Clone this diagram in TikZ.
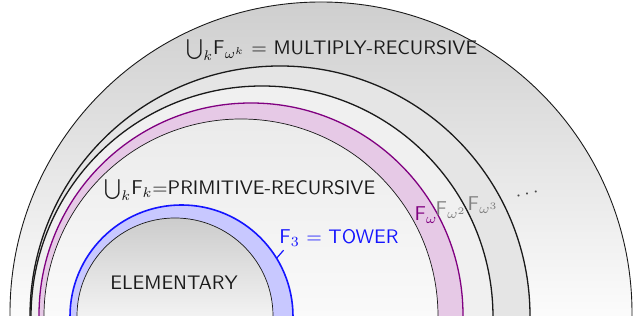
\documentclass[tikz,border=0pt]{standalone}
\usepackage{amsmath}
\usepackage{xcolor}
\usepackage{tikz}
\usetikzlibrary{calc}
\definecolor{ink}{HTML}{1A1A1A}
\definecolor{plum}{HTML}{800080}
\definecolor{plumfill}{HTML}{E6C9E6}
\definecolor{towerblue}{HTML}{1414FF}
\definecolor{towerfill}{HTML}{C8C8FF}
\newcommand{\Fs}{\mathsf{F}}

\begin{document}
\begin{tikzpicture}[
  x=0.5pt, y=0.5pt,
  font=\sffamily\fontsize{9.8}{11}\selectfont,
  every node/.style={inner sep=0pt},
  hair/.style={draw=ink, line width=0.35pt},
  ring/.style={draw=ink, line width=0.65pt},
  lbl/.style={text=ink},
  sub/.style={text=gray},
]
\useasboundingbox (0,0) rectangle (634,325);
\coordinate (cmr) at (321,12);
\coordinate (cw3) at (280,9);
\coordinate (cw2) at (262,8);
\coordinate (cw) at (251,10);
\coordinate (cpr) at (241,9);
\coordinate (ctw) at (181.5,8.5);
\coordinate (cel) at (175,9);
\begin{scope}
  \clip (0,9) rectangle (634,325);
  % multiply-recursive
  \shadedraw[hair, line width=0.45pt, top color=gray!38, bottom color=white, middle color=gray!3] (cmr) circle (311);
  % omega^3, omega^2, omega
  \filldraw[ring, fill=gray!20] (cw3) circle (250);
  \filldraw[ring, fill=gray!12] (cw2) circle (231);
  \filldraw[draw=plum, line width=0.65pt, fill=plumfill] (cw) circle (212);
  % primitive-recursive
  \shadedraw[hair, top color=gray!16, bottom color=white, middle color=gray!4] (cpr) circle (197);
  % tower
  \filldraw[draw=towerblue, line width=0.8pt, fill=towerfill] (ctw) circle (111.5);
  % elementary
  \shadedraw[hair, top color=gray!40, bottom color=white, middle color=gray!10] (cel) circle (98);
\end{scope}
\node[lbl] (mr) at (332,275) {$\bigcup_k\!\Fs_{\omega^k}$ $=$ MULTIPLY-RECURSIVE};
\node[lbl] (pr) at (240,135) {$\bigcup_k\!\Fs_k$=PRIMITIVE-RECURSIVE};
\node[text=towerblue] (tw) at (339,87) {$\Fs_3$ $=$ TOWER};
\node[lbl] (el) at (174,42) {ELEMENTARY};
\node[text=plum] (fw) at (426,110) {$\Fs_\omega$};
\node[sub] (fw2) at (451,115) {$\Fs_{\omega^2}$};
\node[sub] (fw3) at (483,120) {$\Fs_{\omega^3}$};
\node[text=ink!80, rotate=14] (dots) at (529,131) {$\cdots$};
\coordinate (twpin) at ($(ctw)+(31.5:111.5)$);
\draw[towerblue, line width=0.6pt] (twpin) -- ++(7,8);
\end{tikzpicture}
\end{document}
